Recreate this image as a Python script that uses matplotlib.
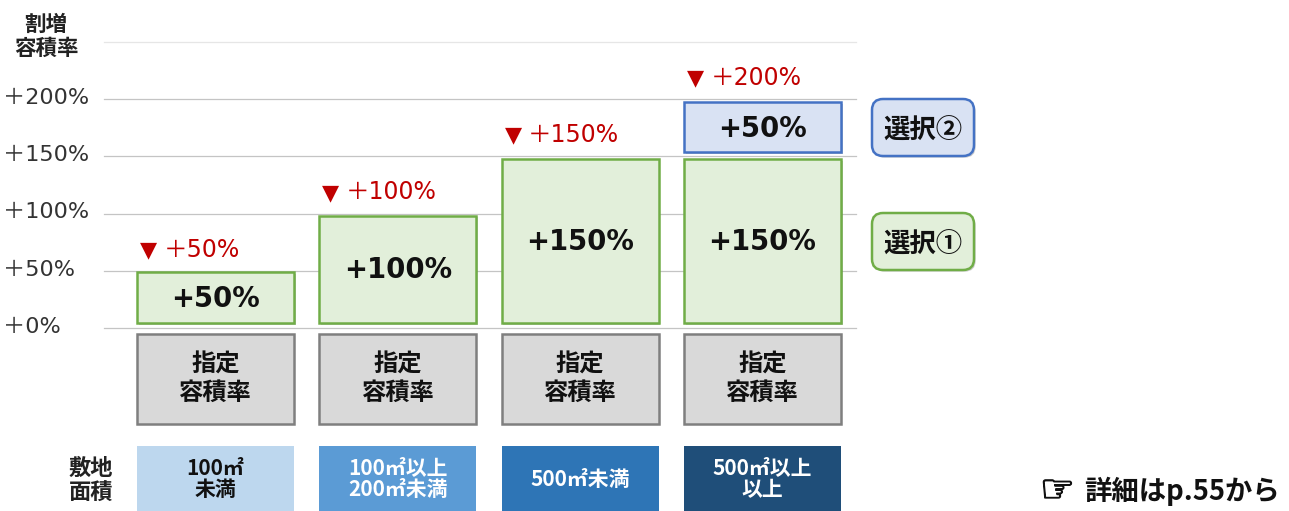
#!/usr/bin/env python3
import matplotlib
matplotlib.use("Agg")
import matplotlib.pyplot as plt
import matplotlib.patheffects as pe
from matplotlib.patches import FancyBboxPatch

JP = ['Noto Sans CJK JP', 'DejaVu Sans']
LATIN_JP = ['DejaVu Sans', 'Noto Sans CJK JP']
plt.rcParams['font.family'] = JP

W, H = 1289, 511

tick_values = [0, 50, 100, 150, 200]
tick_labels = ["＋0%", "＋50%", "＋100%", "＋150%", "＋200%"]
grid_values = [0, 50, 100, 150, 200, 250]

# each column: option 1 bar, then option 2 bar where there is one
option1 = [50, 100, 150, 150]
option1_labels = ["+50%", "+100%", "+150%", "+150%"]
option2 = [0, 0, 0, 50]
option2_labels = ["", "", "", "+50%"]
totals = [50, 100, 150, 200]
total_labels = ["＋50%", "＋100%", "＋150%", "＋200%"]

area_labels = ["100㎡\n未満", "100㎡以上\n200㎡未満", "500㎡未満", "500㎡以上\n以上"]
area_colors = ["#BDD7EE", "#5B9BD5", "#2E75B6", "#1F4E79"]
area_text = ["#111111", "#FFFFFF", "#FFFFFF", "#FFFFFF"]

GREEN = "#70AD47"
GREEN_F = "#E2EFDA"
BLUE = "#4472C4"
BLUE_F = "#D9E2F3"
RED = "#C00000"
shadow = [pe.SimplePatchShadow(offset=(1.2, -1.2), shadow_rgbFace="#000000", alpha=0.2), pe.Normal()]

fig = plt.figure(figsize=(W / 100, H / 100), dpi=100)

# axes spans gridline extent; y 0 at 328px, 200 at 99px
ax = fig.add_axes([104 / W, 1 - 328 / H, 752 / W, 286 / H])
ax.set_xlim(-0.612, 3.513)
ax.set_ylim(0, 249.8)
for s in ax.spines.values():
    s.set_visible(False)
ax.set_xticks([])
ax.set_yticks([])
ax.patch.set_alpha(0)
for v in grid_values:
    ax.axhline(v, color="#E6E6E6" if v == 250 else "#C4C4C4", lw=0.9, zorder=1, clip_on=False)

bar_w = 0.86
cx = 0
for i in range(4):
    base = 4.4
    top = option1[i] - 1.1 - (option1[i] - 50) * 0.013
    ax.bar(i + cx, top - base, bottom=base, width=bar_w, color=GREEN_F,
           edgecolor=GREEN, lw=1.8, zorder=3, path_effects=shadow)
    ax.text(i + cx, (base + top) / 2 - 1.0, option1_labels[i], ha='center', va='center',
            fontsize=19.8, fontweight='bold', family='DejaVu Sans', color="#111111", zorder=5)
    if option2[i]:
        ax.bar(i + cx, option2[i] - 6.3, bottom=option1[i] + 3.7, width=bar_w, color=BLUE_F,
               edgecolor=BLUE, lw=1.8, zorder=3, path_effects=shadow)
        ax.text(i + cx, option1[i] + option2[i] / 2 - 1.5, option2_labels[i], ha='center', va='center',
                fontsize=19.8, fontweight='bold', family='DejaVu Sans', color="#111111", zorder=5)
    ax.text(i - 0.415, totals[i] + 18, "▼", ha='left', va='center', fontsize=16, color=RED,
            family='DejaVu Sans', zorder=5)
    ax.text(i - 0.285, totals[i] + 18.5, total_labels[i], ha='left', va='center', fontsize=17,
            color=RED, family=LATIN_JP, zorder=5)

for v, lab in zip(tick_values, tick_labels):
    ax.text(-0.612 - 101 / 182.3, v + 1, lab, ha='left', va='center', fontsize=16, color="#333333",
            clip_on=False, family=LATIN_JP)
fig.text(46 / W, 1 - 36 / H, "割増\n容積率", ha='center', va='center', fontsize=15.5,
         fontweight='bold', color="#222222", linespacing=1.18)

# side tags for the two options
tags = [("選択②", BLUE_F, BLUE, 99, 156), ("選択①", GREEN_F, GREEN, 213, 270)]
tax = fig.add_axes([0, 0, 1, 1])
tax.set_xlim(0, W)
tax.set_ylim(H, 0)
tax.axis('off')
tax.patch.set_alpha(0)
for lab, fc, ec, y0, y1 in tags:
    box = FancyBboxPatch((872 + 11, y0 + 11), 102 - 22, y1 - y0 - 22, boxstyle="round,pad=11,rounding_size=11",
                         fc=fc, ec=ec, lw=1.8, path_effects=shadow)
    tax.add_patch(box)
    tax.text(922.5, (y0 + y1) / 2 + 3.5, lab, ha='center', va='center', fontsize=19, fontweight='bold', color="#111111")

# lower rows share the column positions of the chart
lax = fig.add_axes([104 / W, 0, 752 / W, 1 - 328 / H])
lax.set_xlim(-0.612, 3.513)
lax.set_ylim(183, 0)
lax.axis('off')
lax.patch.set_alpha(0)
for i in range(4):
    lax.bar(i + cx, 90, bottom=6, width=bar_w, color="#D9D9D9", edgecolor="#7F7F7F", lw=1.8, zorder=2)
    lax.text(i + cx, 50.5, "指定\n容積率", ha='center', va='center', fontsize=17.5, fontweight='bold',
             color="#111111", linespacing=1.23)
    lax.bar(i + cx, 65, bottom=118, width=bar_w, color=area_colors[i], edgecolor='none', zorder=2)
    lax.text(i + cx, 151, area_labels[i], ha='center', va='center', fontsize=15, fontweight='bold',
             color=area_text[i], linespacing=1.05)

fig.text(91 / W, 1 - 481 / H, "敷地\n面積", ha='center', va='center', fontsize=16, fontweight='bold',
         color="#222222", linespacing=1.13)
fig.text(1040 / W, 1 - 491 / H, "☞", ha='left', va='center', fontsize=28, fontweight='bold',
         family='DejaVu Sans', color="#111111",
         path_effects=[pe.withStroke(linewidth=0.9, foreground="#111111")])
fig.text(1084 / W, 1 - 491 / H, "詳細はp.55から", ha='left', va='center', fontsize=19.7, fontweight='bold', color="#111111")

fig.savefig("out.png", dpi=100)
